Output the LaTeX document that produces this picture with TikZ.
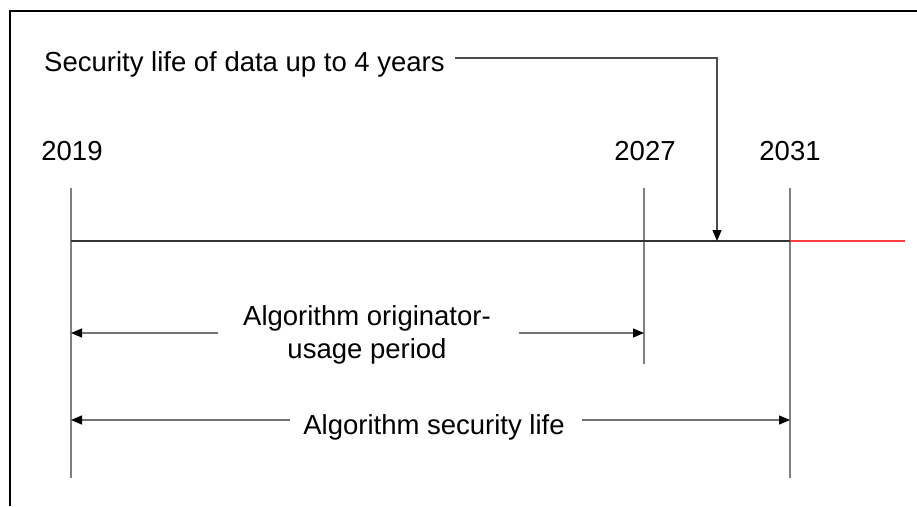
\documentclass[tikz,border=0pt]{standalone}
\usepackage{fontspec}
\setmainfont{Liberation Sans}
\usetikzlibrary{arrows.meta}
\begin{document}
\begin{tikzpicture}[x=1pt,y=-1pt,
  lbl/.style={font=\fontsize{27.5}{33}\selectfont, anchor=base, inner sep=0pt},
  tick/.style={draw=black!50, line width=1.2pt},
  dim/.style={draw=black!55, line width=1.2pt, -{Triangle[length=11pt,width=9pt,color=black]}},
  frame/.style={draw=black, line width=2pt}]
\useasboundingbox (0,0) rectangle (917,506);
% frame
\draw[frame] (10,506) -- (10,11) -- (917,11);
% texts
\node[lbl, anchor=base west] (sec) at (44,71) {Security life of data up to 4 years};
\node[lbl] (y19) at (72,160) {2019};
\node[lbl] (y27) at (645,160) {2027};
\node[lbl] (y31) at (790,160) {2031};
\node[lbl, align=center, anchor=center] (orig) at (367,335) {Algorithm originator-\\usage period};
\node[lbl] (asl) at (434,434) {Algorithm security life};
% coordinates
\coordinate (t19) at (71,188); \coordinate (b19) at (71,478);
\coordinate (t27) at (644,188); \coordinate (b27) at (644,364);
\coordinate (t31) at (790,188); \coordinate (b31) at (790,478);
\coordinate (l19) at (71,241); \coordinate (l31) at (790,241); \coordinate (lend) at (905,241);
\coordinate (sa) at (455,58); \coordinate (sb) at (717,58); \coordinate (sc) at (717,241);
\coordinate (oL) at (218,333); \coordinate (oR) at (519,333);
\coordinate (aL) at (290,420); \coordinate (aR) at (582,420);
% ticks
\draw[tick] (t19) -- (b19);
\draw[tick] (t27) -- (b27);
\draw[tick] (t31) -- (b31);
% timeline
\draw[draw=black!80, line width=1.2pt] (l19) -- (l31);
\draw[draw=red!75, line width=1.2pt] (l31) -- (lend);
% security data arrow
\draw[draw=black!70, line width=1.2pt, -{Triangle[length=11pt,width=9pt,color=black]}] (sa) -- (sb) -- (sc);
% dimension arrows
\draw[dim] (oL) -- (71,333);
\draw[dim] (oR) -- (644,333);
\draw[dim] (aL) -- (71,420);
\draw[dim] (aR) -- (790,420);
\end{tikzpicture}
\end{document}
